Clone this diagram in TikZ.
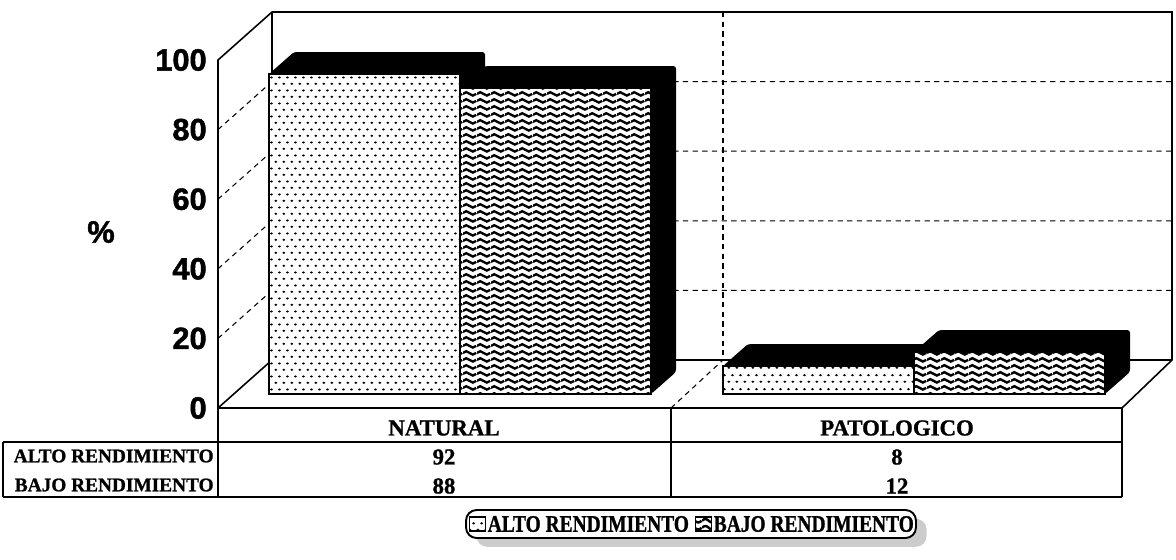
\documentclass[tikz,border=0pt]{standalone}
\usepackage{fontspec}
\setmainfont{Liberation Serif}[BoldFeatures={FakeBold=1}]
\newfontfamily\axisfont{Liberation Sans}[BoldFeatures={FakeBold=1.5}]
\newfontfamily\legfont{Liberation Serif}[FakeStretch=0.82, BoldFeatures={FakeBold=1, FakeStretch=0.82}]
\usetikzlibrary{patterns,positioning,shadows}

% fill patterns of the two series
\pgfdeclarepatternformonly{altodots}{\pgfqpoint{0pt}{0pt}}{\pgfqpoint{4.6pt}{7.6pt}}{\pgfqpoint{4.6pt}{7.6pt}}{%
  \pgfpathellipse{\pgfqpoint{1.15pt}{1.9pt}}{\pgfqpoint{0.95pt}{0pt}}{\pgfqpoint{0pt}{0.7pt}}%
  \pgfpathellipse{\pgfqpoint{3.45pt}{5.7pt}}{\pgfqpoint{0.95pt}{0pt}}{\pgfqpoint{0pt}{0.7pt}}%
  \pgfusepath{fill}}
\pgfdeclarepatternformonly{bajowaves}{\pgfqpoint{0pt}{0pt}}{\pgfqpoint{8pt}{4pt}}{\pgfqpoint{8pt}{4pt}}{%
  \pgfsetlinewidth{1.5pt}%
  \pgfpathmoveto{\pgfqpoint{0pt}{2pt}}%
  \pgfpathcurveto{\pgfqpoint{1.33pt}{3.4pt}}{\pgfqpoint{2.67pt}{3.4pt}}{\pgfqpoint{4pt}{2pt}}%
  \pgfpathcurveto{\pgfqpoint{5.33pt}{0.6pt}}{\pgfqpoint{6.67pt}{0.6pt}}{\pgfqpoint{8pt}{2pt}}%
  \pgfusepath{stroke}}

\tikzset{
  wall/.style={line width=0.9pt},
  gridline/.style={line width=0.6pt, dash pattern=on 3pt off 2.5pt},
  barfront/.style={draw, line width=0.6pt, preaction={fill=white}},
  barblack/.style={fill=black, rounded corners=1.5pt},
  tick/.style={anchor=east, inner sep=0pt, font=\axisfont\bfseries\fontsize{17.5}{18}\selectfont},
  cell/.style={inner sep=0pt, font=\bfseries\fontsize{13}{14}\selectfont},
  rowlbl/.style={anchor=east, inner sep=0pt, font=\bfseries\fontsize{11}{12}\selectfont},
  legicon/.style={draw, line width=0.6pt, minimum width=0.32cm, minimum height=0.28cm, inner sep=0pt, preaction={fill=white}},
  legtext/.style={inner sep=1pt, font=\legfont\bfseries\fontsize{13.5}{14}\selectfont}
}

\begin{document}
\begin{tikzpicture}[x=0.02cm,y=-0.02cm]
  \useasboundingbox (0,0) rectangle (1176,559);

  % walls and floor
  \draw[wall] (218,408) -- (218,60) -- (272,12) -- (1172,12) -- (1172,360) -- (1122,408);
  \draw[wall] (272,12) -- (272,360) -- (1172,360);
  \draw[wall] (218,408) -- (272,360);
  \foreach \v in {20,40,60,80}
    \draw[gridline] (218,408-3.48*\v) -- (272,360-3.48*\v) -- (1172,360-3.48*\v);
  \draw[gridline] (723,12) -- (723,360);
  \draw[gridline] (671,408) -- (723,360);

  % bars
  \fill[barblack] (269,74) -- ++(25,-22) -- (485,52) -- (485,372) -- (460,394) -- cycle;
  \fill[barblack] (460,88) -- ++(25,-22) -- (676,66) -- (676,372) -- (651,394) -- cycle;
  \draw[barfront, pattern=altodots] (269,74) rectangle (460,394);
  \draw[barfront, pattern=bajowaves] (460,88) rectangle (651,394);
  \fill[barblack] (723,366) -- ++(25,-22) -- (939,344) -- (939,372) -- (914,394) -- cycle;
  \fill[barblack] (914,352) -- ++(25,-22) -- (1130,330) -- (1130,372) -- (1105,394) -- cycle;
  \draw[barfront, pattern=altodots] (723,366) rectangle (914,394);
  \draw[barfront, pattern=bajowaves] (914,352) rectangle (1105,394);

  % axis
  \foreach \v in {0,20,40,60,80,100}
    \node[tick] (t\v) at (207,408-3.48*\v) {\v};
  \node[tick, anchor=center] (pct) at (101,232) {\%};

  % data table
  \draw[wall] (218,408) -- (1122,408);
  \draw[line width=0.6pt] (3,442) -- (1122,442);
  \draw[line width=0.6pt] (3,497) -- (1122,497);
  \draw[line width=0.6pt] (3,442) -- (3,497);
  \draw[line width=0.6pt] (218,408) -- (218,497);
  \draw[line width=0.6pt] (671,408) -- (671,497);
  \draw[line width=0.6pt] (1122,408) -- (1122,497);
  \node[cell] (natural) at (444,428) {NATURAL};
  \node[cell] (patol) at (897,428) {PATOLOGICO};
  \node[rowlbl] (ralto) at (214,456) {ALTO RENDIMIENTO};
  \node[rowlbl] (rbajo) at (214,485) {BAJO RENDIMIENTO};
  \node[cell] (n1) at (444,457) {92};
  \node[cell] (n2) at (444,486) {88};
  \node[cell] (p1) at (897,457) {8};
  \node[cell] (p2) at (897,486) {12};

  % legend
  \node[draw, line width=1.1pt, rounded corners=6pt, fill=white, minimum width=9.0cm, minimum height=0.56cm,
        drop shadow={shadow xshift=6pt, shadow yshift=-5pt, fill=gray!40, opacity=1}] (legbox) at (691,524) {};
  \node[legicon, pattern=altodots, right=2pt of legbox.west] (ialto) {};
  \node[legtext, right=0pt of ialto] (talto) {ALTO RENDIMIENTO};
  \node[legicon, pattern=bajowaves, right=2pt of talto] (ibajo) {};
  \node[legtext, right=0pt of ibajo] (tbajo) {BAJO RENDIMIENTO};
\end{tikzpicture}
\end{document}
